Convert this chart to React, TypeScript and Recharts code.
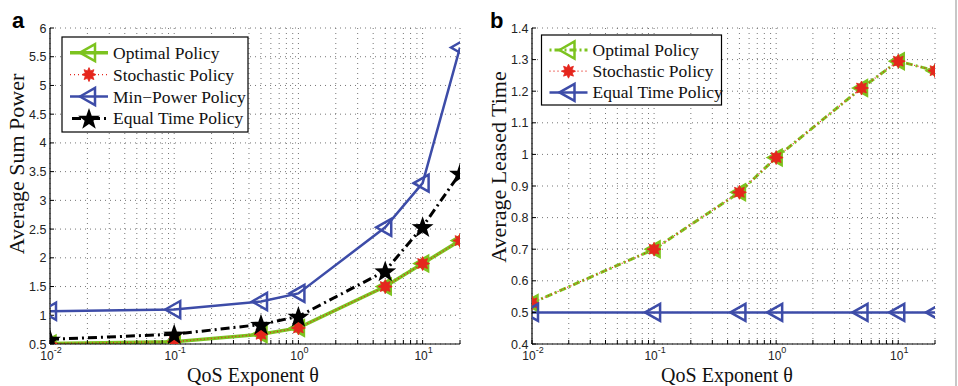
import React from "react";
import { LineChart, Line, XAxis, YAxis, CartesianGrid } from "recharts";

// QoS exponent values (log axis)
const theta = [0.01, 0.1, 0.5, 1, 5, 10, 20];

// (a) average sum power
const powerOptimal = [0.51, 0.54, 0.67, 0.78, 1.5, 1.9, 2.3];
const powerStochastic = [0.51, 0.54, 0.67, 0.78, 1.5, 1.9, 2.3];
const powerMinPower = [1.07, 1.1, 1.24, 1.38, 2.53, 3.3, 5.66];
const powerEqualTime = [0.58, 0.67, 0.84, 0.98, 1.77, 2.54, 3.47];

// (b) average leased time
const leasedOptimal = [0.53, 0.7, 0.88, 0.99, 1.21, 1.295, 1.265];
const leasedStochastic = [0.53, 0.7, 0.88, 0.99, 1.21, 1.295, 1.265];
const leasedEqualTime = [0.5, 0.5, 0.5, 0.5, 0.5, 0.5, 0.5];

// axis ticks
const powerTicks = [0.5, 1, 1.5, 2, 2.5, 3, 3.5, 4, 4.5, 5, 5.5, 6];
const leasedTicks = [0.4, 0.5, 0.6, 0.7, 0.8, 0.9, 1, 1.1, 1.2, 1.3, 1.4];
const decadeTicks = [0.01, 0.1, 1, 10];
const decadeExponents = ["-2", "-1", "0", "1"];
const logTicks = [
  0.01, 0.02, 0.03, 0.04, 0.05, 0.06, 0.07, 0.08, 0.09,
  0.1, 0.2, 0.3, 0.4, 0.5, 0.6, 0.7, 0.8, 0.9,
  1, 2, 3, 4, 5, 6, 7, 8, 9,
  10, 20,
];

const powerRows = theta.map((t, i) => ({
  theta: t,
  optimal: powerOptimal[i],
  stochastic: powerStochastic[i],
  minPower: powerMinPower[i],
  equalTime: powerEqualTime[i],
}));

const leasedRows = theta.map((t, i) => ({
  theta: t,
  optimal: leasedOptimal[i],
  stochastic: leasedStochastic[i],
  equalTime: leasedEqualTime[i],
}));

const GREEN = "#7cc31f";
const RED = "#e5261d";
const BLUE = "#3d4ca8";
const SANS = "'Liberation Sans', Arial, sans-serif";
const SERIF = "'Liberation Serif', 'Times New Roman', serif";

const trianglePath = (cx: number, cy: number) =>
  `M${cx - 9},${cy} L${cx + 6},${cy - 8.5} L${cx + 6},${cy + 8.5} Z`;

function starPoints(cx: number, cy: number, n: number, ro: number, ri: number) {
  const pts: string[] = [];
  for (let k = 0; k < n * 2; k++) {
    const r = k % 2 === 0 ? ro : ri;
    const a = -Math.PI / 2 + (k * Math.PI) / n;
    pts.push(`${cx + r * Math.cos(a)},${cy + r * Math.sin(a)}`);
  }
  return pts.join(" ");
}

const OpenTriangle = ({ cx, cy, color }: { cx: number; cy: number; color: string }) => (
  <path d={trianglePath(cx, cy)} fill="none" stroke={color} strokeWidth={2.5} strokeLinejoin="miter" />
);
const FilledTriangle = ({ cx, cy }: { cx: number; cy: number }) => (
  <path d={trianglePath(cx, cy)} fill={GREEN} stroke={GREEN} strokeWidth={1.5} />
);
const RedStar = ({ cx, cy }: { cx: number; cy: number }) => (
  <polygon points={starPoints(cx, cy, 8, 7, 4)} fill={RED} stroke={RED} strokeWidth={0.8} />
);
const Pentagram = ({ cx, cy }: { cx: number; cy: number }) => (
  <polygon points={starPoints(cx, cy + 1, 5, 11.5, 4.6)} fill="#000" />
);

const DecadeTick = (props: any) => {
  const { x, y, payload } = props;
  const idx = decadeTicks.indexOf(payload.value);
  if (idx < 0) return <g />;
  return (
    <text x={x + 1} y={y + 16} textAnchor="middle" fontFamily={SANS} fontSize={12} fill="#222">
      <tspan>10</tspan>
      <tspan dy={-7} fontSize={9}>{decadeExponents[idx]}</tspan>
    </text>
  );
};
const ValueTick = (props: any) => {
  const { x, y, payload } = props;
  return (
    <text x={x} y={y + 4.5} textAnchor="end" fontFamily={SANS} fontSize={12.5} fill="#222">
      {String(payload.value)}
    </text>
  );
};
const NoTick = () => <g />;

const axisStroke = { stroke: "#000", strokeWidth: 1.2 };

function gridAndAxes(yDomain: number[], yTicks: number[], yWidth: number) {
  return [
    <CartesianGrid
      key="grid"
      xAxisId="bottom"
      yAxisId="left"
      stroke="#666"
      strokeWidth={0.9}
      strokeDasharray="1 4"
    />,
    <XAxis
      key="xb"
      xAxisId="bottom"
      dataKey="theta"
      type="number"
      scale="log"
      domain={[0.01, 20]}
      allowDataOverflow
      ticks={logTicks}
      interval={0}
      tick={DecadeTick}
      tickSize={-4}
      tickMargin={4}
      height={42}
      axisLine={axisStroke}
      tickLine={{ stroke: "#000" }}
    />,
    <XAxis
      key="xt"
      xAxisId="top"
      orientation="top"
      dataKey="theta"
      type="number"
      scale="log"
      domain={[0.01, 20]}
      allowDataOverflow
      ticks={logTicks}
      interval={0}
      tick={NoTick}
      tickSize={-4}
      height={0}
      axisLine={axisStroke}
      tickLine={{ stroke: "#000" }}
    />,
    <YAxis
      key="yl"
      yAxisId="left"
      type="number"
      domain={yDomain}
      ticks={yTicks}
      interval={0}
      allowDataOverflow
      tick={ValueTick}
      tickSize={-4}
      tickMargin={7.5}
      width={yWidth}
      axisLine={axisStroke}
      tickLine={{ stroke: "#000" }}
    />,
    <YAxis
      key="yr"
      yAxisId="right"
      orientation="right"
      type="number"
      domain={yDomain}
      ticks={yTicks}
      interval={0}
      allowDataOverflow
      tick={NoTick}
      tickSize={-4}
      width={0}
      axisLine={axisStroke}
      tickLine={{ stroke: "#000" }}
    />,
  ];
}

function PowerChart() {
  return (
    <LineChart width={480} height={386} data={powerRows} margin={{ top: 28, right: 20, left: 0, bottom: 0 }}>
      {gridAndAxes([0.5, 6], powerTicks, 50)}
      <Line
        xAxisId="bottom"
        yAxisId="left"
        dataKey="optimal"
        stroke={GREEN}
        strokeWidth={3.5}
        dot={(p: any) => <FilledTriangle key={`o${p.index}`} cx={p.cx} cy={p.cy} />}
        activeDot={false}
        isAnimationActive={false}
      />
      <Line
        xAxisId="bottom"
        yAxisId="left"
        dataKey="stochastic"
        stroke={RED}
        strokeWidth={1.2}
        strokeDasharray="1 2.5"
        dot={(p: any) => <RedStar key={`s${p.index}`} cx={p.cx} cy={p.cy} />}
        activeDot={false}
        isAnimationActive={false}
      />
      <Line
        xAxisId="bottom"
        yAxisId="left"
        dataKey="minPower"
        stroke={BLUE}
        strokeWidth={2.5}
        dot={(p: any) => <OpenTriangle key={`m${p.index}`} cx={p.cx} cy={p.cy} color={BLUE} />}
        activeDot={false}
        isAnimationActive={false}
      />
      <Line
        xAxisId="bottom"
        yAxisId="left"
        dataKey="equalTime"
        stroke="#000"
        strokeWidth={3}
        strokeDasharray="9 4 2 4"
        dot={(p: any) => <Pentagram key={`e${p.index}`} cx={p.cx} cy={p.cy} />}
        activeDot={false}
        isAnimationActive={false}
      />
    </LineChart>
  );
}

function LeasedChart() {
  return (
    <LineChart width={480} height={386} data={leasedRows} margin={{ top: 28, right: 23, left: 0, bottom: 0 }}>
      {gridAndAxes([0.4, 1.4], leasedTicks, 54)}
      <Line
        xAxisId="bottom"
        yAxisId="left"
        dataKey="optimal"
        stroke={GREEN}
        strokeWidth={3}
        strokeDasharray="7 3 2 3"
        dot={(p: any) => <FilledTriangle key={`o${p.index}`} cx={p.cx} cy={p.cy} />}
        activeDot={false}
        isAnimationActive={false}
      />
      <Line
        xAxisId="bottom"
        yAxisId="left"
        dataKey="stochastic"
        stroke={RED}
        strokeWidth={1.2}
        strokeDasharray="1 2.5"
        dot={(p: any) => <RedStar key={`s${p.index}`} cx={p.cx} cy={p.cy} />}
        activeDot={false}
        isAnimationActive={false}
      />
      <Line
        xAxisId="bottom"
        yAxisId="left"
        dataKey="equalTime"
        stroke={BLUE}
        strokeWidth={2.5}
        dot={(p: any) => <OpenTriangle key={`e${p.index}`} cx={p.cx} cy={p.cy} color={BLUE} />}
        activeDot={false}
        isAnimationActive={false}
      />
    </LineChart>
  );
}

type Entry = { label: string; sample: (x: number, y: number) => React.ReactNode };

const legendA: Entry[] = [
  {
    label: "Optimal Policy",
    sample: (x, y) => (
      <g>
        <line x1={x - 19} x2={x + 19} y1={y} y2={y} stroke={GREEN} strokeWidth={3.5} />
        <OpenTriangle cx={x} cy={y} color={GREEN} />
      </g>
    ),
  },
  {
    label: "Stochastic Policy",
    sample: (x, y) => (
      <g>
        <line x1={x - 19} x2={x + 19} y1={y} y2={y} stroke={RED} strokeWidth={1.2} strokeDasharray="1 3" />
        <RedStar cx={x} cy={y} />
      </g>
    ),
  },
  {
    label: "Min\u2212Power Policy",
    sample: (x, y) => (
      <g>
        <line x1={x - 19} x2={x + 19} y1={y} y2={y} stroke={BLUE} strokeWidth={2.5} />
        <OpenTriangle cx={x} cy={y} color={BLUE} />
      </g>
    ),
  },
  {
    label: "Equal Time Policy",
    sample: (x, y) => (
      <g>
        <line x1={x - 19} x2={x + 19} y1={y} y2={y} stroke="#000" strokeWidth={3} strokeDasharray="9 4 2 4" strokeDashoffset={-2} />
        <Pentagram cx={x} cy={y} />
      </g>
    ),
  },
];

const legendB: Entry[] = [
  {
    label: "Optimal Policy",
    sample: (x, y) => (
      <g>
        <line x1={x - 19} x2={x + 19} y1={y} y2={y} stroke={GREEN} strokeWidth={3} strokeDasharray="2 3 7 3" />
        <OpenTriangle cx={x} cy={y} color={GREEN} />
      </g>
    ),
  },
  {
    label: "Stochastic Policy",
    sample: (x, y) => (
      <g>
        <line x1={x - 19} x2={x + 19} y1={y} y2={y} stroke={RED} strokeWidth={1.2} strokeDasharray="1 3" />
        <RedStar cx={x} cy={y} />
      </g>
    ),
  },
  {
    label: "Equal Time Policy",
    sample: (x, y) => (
      <g>
        <line x1={x - 19} x2={x + 19} y1={y} y2={y} stroke={BLUE} strokeWidth={2.5} />
        <OpenTriangle cx={x} cy={y} color={BLUE} />
      </g>
    ),
  },
];

function LegendBox({ x, y, w, h, rowStart, rowGap, entries }: {
  x: number; y: number; w: number; h: number; rowStart: number; rowGap: number; entries: Entry[];
}) {
  return (
    <g>
      <rect x={x} y={y} width={w} height={h} fill="#fff" stroke="#000" strokeWidth={1.2} />
      {entries.map((e, i) => {
        const cy = rowStart + i * rowGap;
        return (
          <g key={e.label}>
            {e.sample(x + 27, cy)}
            <text x={x + 51} y={cy + 6} fontFamily={SERIF} fontSize={17.5} fill="#111">
              {e.label}
            </text>
          </g>
        );
      })}
    </g>
  );
}

export default function App() {
  return (
    <div style={{ position: "absolute", left: 0, top: 0, width: 958, height: 386, background: "#fff", overflow: "hidden" }}>
      <div style={{ position: "absolute", left: 0, top: 0 }}>
        <PowerChart />
      </div>
      <div style={{ position: "absolute", left: 478, top: 0 }}>
        <LeasedChart />
      </div>
      <svg width={958} height={386} style={{ position: "absolute", left: 0, top: 0, pointerEvents: "none" }}>
        <text x={12} y={28} fontFamily={SANS} fontWeight="bold" fontSize={22} fill="#000">a</text>
        <text x={490} y={28} fontFamily={SANS} fontWeight="bold" fontSize={22} fill="#000">b</text>

        <text x={24} y={164} transform="rotate(-90 24 164)" textAnchor="middle" fontFamily={SERIF} fontSize={22} fill="#111">
          Average Sum Power
        </text>
        <text x={506} y={167} transform="rotate(-90 506 167)" textAnchor="middle" fontFamily={SERIF} fontSize={22} fill="#111">
          Average Leased Time
        </text>
        <text x={253} y={381.5} textAnchor="middle" fontFamily={SERIF} fontSize={20} fill="#111">
          QoS Exponent θ
        </text>
        <text x={727} y={381.5} textAnchor="middle" fontFamily={SERIF} fontSize={20} fill="#111">
          QoS Exponent θ
        </text>

        <LegendBox x={62} y={37} w={186} h={95} rowStart={52.7} rowGap={21.9} entries={legendA} />
        <LegendBox x={541.5} y={35} w={180} h={70} rowStart={50} rowGap={21.2} entries={legendB} />

        <line x1={956} x2={956} y1={0} y2={386} stroke="#b5b5b5" strokeWidth={1.5} />
      </svg>
    </div>
  );
}
